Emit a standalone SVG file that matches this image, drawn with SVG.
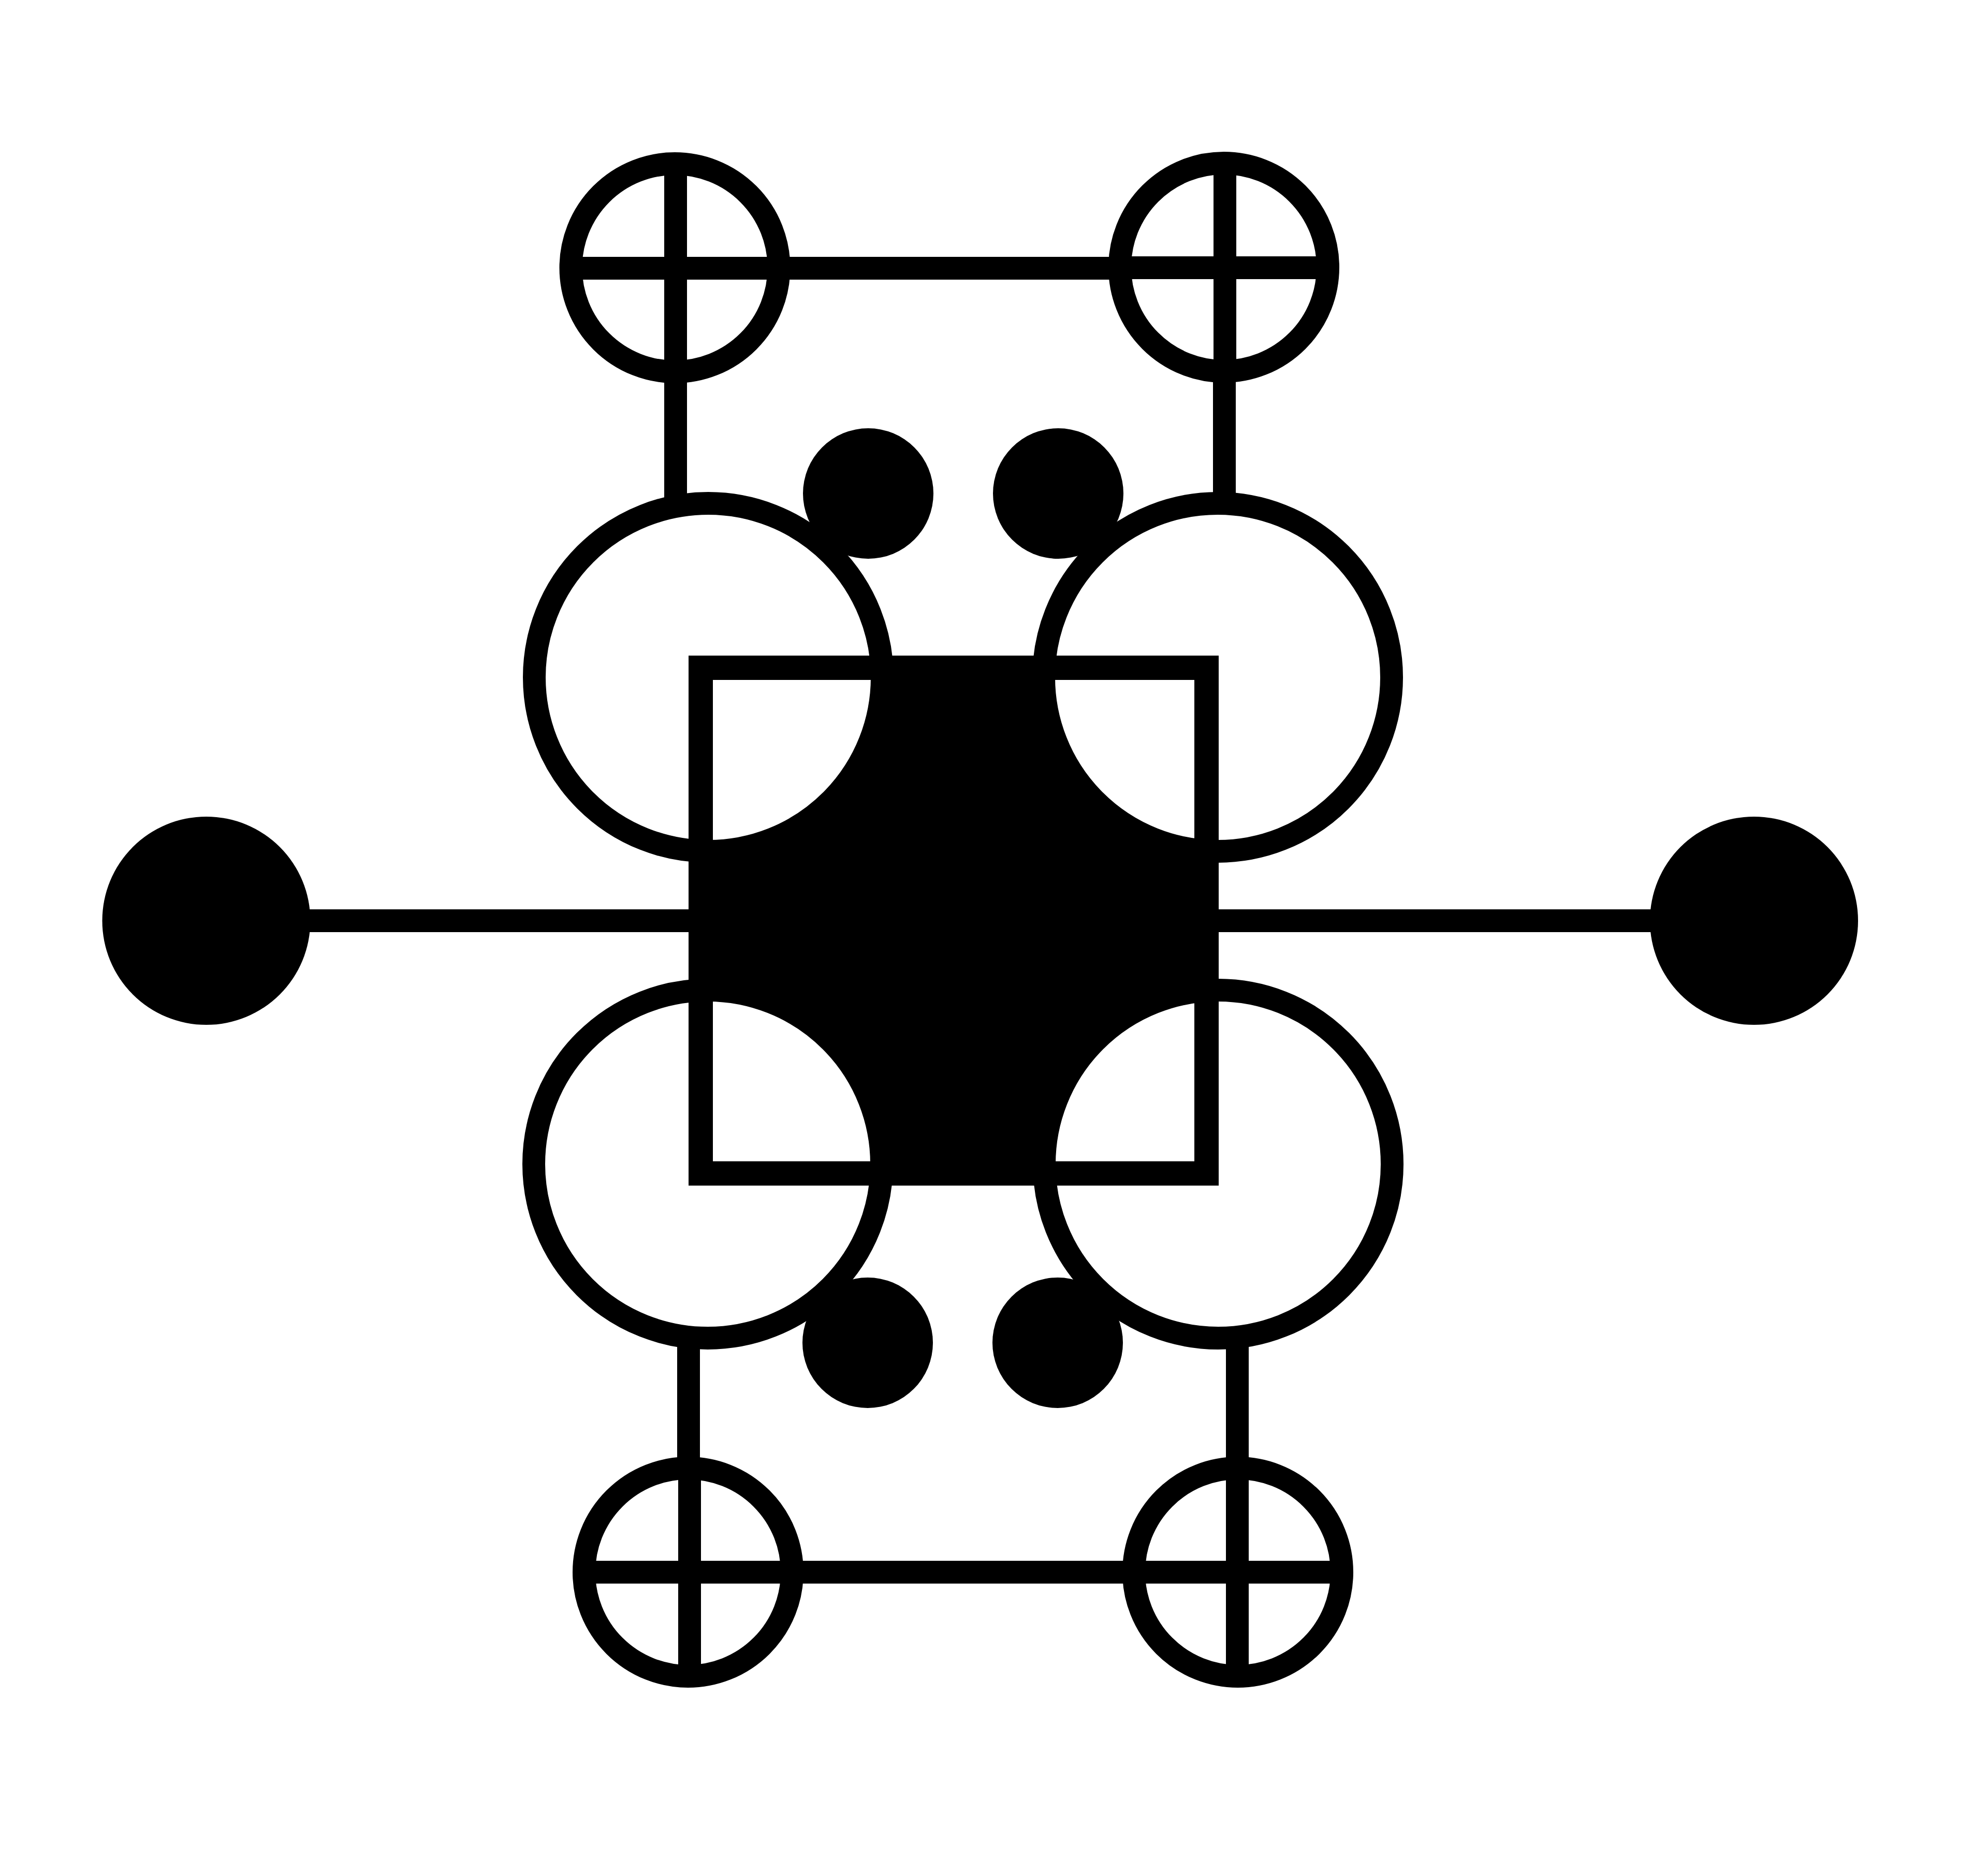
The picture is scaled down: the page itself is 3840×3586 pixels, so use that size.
<svg xmlns="http://www.w3.org/2000/svg" width="3840" height="3586" viewBox="0 0 3840 3586">
<style>
.ln{stroke:#000;stroke-width:44;fill:none}
.ring{stroke:#000;stroke-width:44;fill:#fff}
.big{stroke:#000;stroke-width:44;fill:#fff}
.dot{fill:#000;stroke:none}
.sq{stroke:#000;stroke-width:47;fill:none}
</style>
<rect width="3840" height="3586" fill="#fff"/>
<g id="connectors">
<line class="ln" x1="398" y1="1778" x2="3388" y2="1778"/>
<line class="ln" x1="1110" y1="518" x2="2560" y2="518"/>
<line class="ln" x1="1305" y1="330" x2="1305" y2="975"/>
<line class="ln" x1="2365" y1="330" x2="2365" y2="975"/>
<line class="ln" x1="1136" y1="3036" x2="2586" y2="3036"/>
<line class="ln" x1="1330" y1="2580" x2="1330" y2="3240"/>
<line class="ln" x1="2390" y1="2580" x2="2390" y2="3240"/>
</g>
<g id="core-fill">
<rect x="1353.5" y="1289.5" width="977" height="976.5" fill="#000"/>
</g>
<g id="dot-tl"><circle class="dot" cx="1677" cy="953" r="126"/></g>
<g id="dot-tr"><circle class="dot" cx="2044" cy="953" r="126"/></g>
<g id="dot-bl"><circle class="dot" cx="1676" cy="2593" r="126"/></g>
<g id="dot-br"><circle class="dot" cx="2043" cy="2593" r="126"/></g>
<g id="big-tl"><circle class="big" cx="1368" cy="1308" r="336"/></g>
<g id="big-tr"><circle class="big" cx="2352" cy="1308" r="336"/></g>
<g id="big-bl"><circle class="big" cx="1367" cy="2248" r="336"/></g>
<g id="big-br"><circle class="big" cx="2353" cy="2248" r="336"/></g>
<g id="core"><rect class="sq" x="1353.5" y="1289.5" width="977" height="976.5"/></g>
<g id="cross-tl">
<circle class="ring" cx="1303.5" cy="517" r="201"/>
<line class="ln" x1="1305" y1="316" x2="1305" y2="718"/>
<line class="ln" x1="1102" y1="518" x2="1505" y2="518"/>
</g>
<g id="cross-tr">
<circle class="ring" cx="2364" cy="516" r="201"/>
<line class="ln" x1="2366" y1="315" x2="2366" y2="717"/>
<line class="ln" x1="2163" y1="517" x2="2565" y2="517"/>
</g>
<g id="cross-bl">
<circle class="ring" cx="1329" cy="3036" r="201"/>
<line class="ln" x1="1332" y1="2835" x2="1332" y2="3237"/>
<line class="ln" x1="1128" y1="3036" x2="1530" y2="3036"/>
</g>
<g id="cross-br">
<circle class="ring" cx="2391" cy="3036" r="201"/>
<line class="ln" x1="2390" y1="2835" x2="2390" y2="3237"/>
<line class="ln" x1="2190" y1="3036" x2="2592" y2="3036"/>
</g>
<g id="end-left"><circle class="dot" cx="398.5" cy="1778" r="201"/></g>
<g id="end-right"><circle class="dot" cx="3388" cy="1778" r="201"/></g>
</svg>
